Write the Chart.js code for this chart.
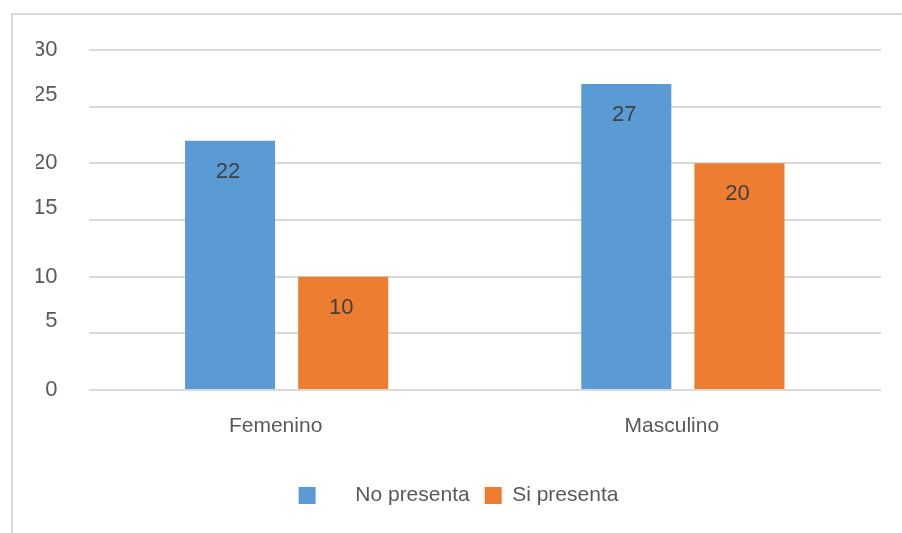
<!DOCTYPE html>
<html>
<head>
<meta charset="utf-8">
<script src="https://cdn.jsdelivr.net/npm/chart.js@4/dist/chart.umd.min.js"></script>
<style>
  html, body { margin: 0; padding: 0; background: #fff; }
  #wrap { position: relative; width: 902px; height: 533px; }
  #frame {
    position: absolute; left: 11px; top: 13px; right: 0; bottom: 0;
    border-left: 2px solid #d9d9d9; border-top: 2px solid #d9d9d9;
  }
  #chart { position: absolute; left: 0; top: 0; }
</style>
</head>
<body>
<div id="wrap">
  <div id="frame"></div>
  <canvas id="chart" width="902" height="533"></canvas>
</div>
<script>
// Datos del grafico
const categorias = ['Femenino', 'Masculino'];
const noPresenta = [22, 27];
const siPresenta = [10, 20];
const nombresSeries = ['No presenta', 'Si presenta'];
const ejeY = { min: 0, max: 30, paso: 5 };

const FONT = '"Liberation Sans", Arial, sans-serif';

// Etiquetas de valor dentro de cada barra
const etiquetasValor = {
    id: 'etiquetasValor',
    afterDatasetsDraw(chart) {
        const ctx = chart.ctx;
        ctx.save();
        ctx.font = '22px ' + FONT;
        ctx.fillStyle = '#404040';
        ctx.textAlign = 'center';
        ctx.textBaseline = 'middle';
        chart.data.datasets.forEach((ds, i) => {
            chart.getDatasetMeta(i).data.forEach((bar, j) => {
                ctx.fillText(String(ds.data[j]), bar.x - 2, bar.y + 31);
            });
        });
        ctx.restore();
    }
};

document.addEventListener("DOMContentLoaded", function () {
    const ctx = document.getElementById('chart').getContext('2d');
    new Chart(ctx, {
        type: 'bar',
        data: {
            labels: categorias,
            datasets: [{
                label: nombresSeries[0],
                data: noPresenta,
                backgroundColor: '#5B9BD5'
            }, {
                label: nombresSeries[1],
                data: siPresenta,
                backgroundColor: '#ED7D31'
            }]
        },
        options: {
            responsive: false,
            animation: false,
            layout: { padding: { left: 36, right: 21, top: 50, bottom: 17 } },
            datasets: {
                bar: { categoryPercentage: 0.571, barPercentage: 0.796 }
            },
            scales: {
                x: {
                    afterFit(scale) { scale.height = 80; },
                    grid: { display: false },
                    border: { display: false },
                    ticks: {
                        color: '#595959',
                        font: { family: FONT, size: 21 },
                        padding: 16,
                        labelOffset: -11
                    }
                },
                y: {
                    min: ejeY.min,
                    max: ejeY.max,
                    afterFit(scale) { scale.width = 52.5; },
                    grid: { color: '#d9d9d9', lineWidth: 2, drawTicks: false },
                    border: { display: false },
                    ticks: {
                        stepSize: ejeY.paso,
                        color: '#595959',
                        font: { family: FONT, size: 22, lineHeight: 1.1 },
                        padding: 31,
                        callback: (v) => (v % 10 === 5 ? [String(v), ''] : String(v))
                    }
                }
            },
            plugins: {
                tooltip: { enabled: false },
                legend: {
                    position: 'bottom',
                    labels: {
                        color: '#595959',
                        font: { family: FONT, size: 21 },
                        boxWidth: 17,
                        boxHeight: 17,
                        padding: 15,
                        generateLabels(chart) {
                            const items = Chart.defaults.plugins.legend.labels.generateLabels(chart);
                            // hueco extra entre el primer cuadro y su texto
                            items[0].text = '     ' + items[0].text;
                            return items;
                        }
                    }
                }
            }
        },
        plugins: [etiquetasValor]
    });
});
</script>
</body>
</html>
